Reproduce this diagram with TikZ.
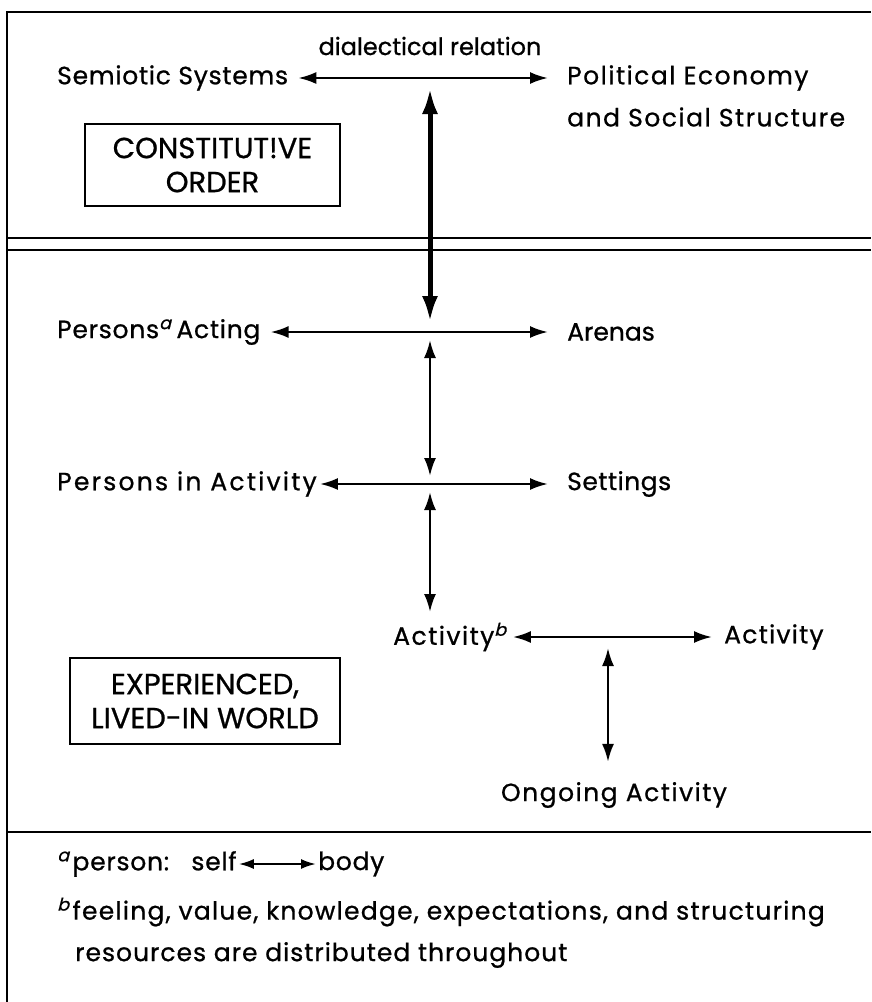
\documentclass[tikz,border=0pt]{standalone}
\usepackage{fontspec}
\setmainfont{Poppins}[FakeBold=0.8]
\usetikzlibrary{arrows.meta}
\newcommand{\supa}{\textsuperscript{\addfontfeature{FakeSlant=0.25}a}}
\newcommand{\supb}{\textsuperscript{\addfontfeature{FakeSlant=0.25}b}}
\newcommand{\spc}[1]{\addfontfeature{LetterSpace=#1}}
\begin{document}
\begin{tikzpicture}[x=1pt,y=-1pt,
  lbl/.style={anchor=west,inner sep=0pt,font=\fontsize{25}{28}\selectfont},
  orderbox/.style={draw,line width=2.6pt,align=center,inner sep=0pt,font=\fontsize{29}{34}\selectfont},
  rule/.style={line width=2.6pt},
  link/.style={line width=2.4pt,{Latex[length=18pt,width=12pt]}-{Latex[length=18pt,width=12pt]}},
  biglink/.style={line width=5pt,{Latex[length=26pt,width=16pt]}-{Latex[length=26pt,width=16pt]}},
  smalllink/.style={line width=2.2pt,{Latex[length=15pt,width=10pt]}-{Latex[length=15pt,width=10pt]}}]
\useasboundingbox (0,0) rectangle (871,1002);
% frame and dividing rules
\draw[rule] (7,1002) -- (7,12) -- (871,12);
\draw[rule] (7,238) -- (871,238);
\draw[rule] (7,250) -- (871,250);
\draw[rule] (7,832) -- (871,832);
% constitutive order
\node[inner sep=0pt,font=\fontsize{24}{28}\selectfont] (dial) at (430,46) {dialectical relation};
\node[lbl] (sem) at (57,78) {\spc{3}Semiotic Systems};
\node[lbl] (pol) at (567,78) {\spc{6}Political Economy};
\node[lbl] (soc) at (567,117) {\spc{6}and Social Structure};
\draw[orderbox] (85,124) rectangle (340,206);
\node[orderbox,draw=none] (cons) at (212.5,165) {CONSTITUT!VE\\ORDER};
\coordinate (jtop) at (430,78);
% lived-in world
\node[lbl] (pact) at (57,332) {\spc{3}Persons\supa\hspace{5pt}Acting};
\node[lbl] (arena) at (567,332) {\spc{0}Arenas};
\coordinate (j1) at (430,332);
\node[lbl] (pia) at (57,484) {\spc{9}Persons in Activity};
\node[lbl] (sett) at (567,484) {\spc{2}Settings};
\coordinate (j2) at (430,484);
\node[lbl] (act) at (393,637) {\spc{6}Activity\supb};
\node[lbl] (act2) at (724,637) {\spc{5}Activity};
\coordinate (j3) at (608,637);
\node[lbl,anchor=center] (ong) at (614,795) {\spc{6}Ongoing Activity};
\draw[orderbox] (70,658) rectangle (340,744);
\node[orderbox,draw=none] (exp) at (205,701) {EXPERIENCED,\\LIVED-IN WORLD};
% connectors
\draw[link,shorten <=10pt,shorten >=19pt] (sem.east) -- (pol.west);
\draw[biglink,shorten <=10pt,shorten >=10pt] (jtop) -- (j1);
\draw[link,shorten <=10pt,shorten >=19pt] (pact.east) -- (arena.west);
\draw[link,shorten <=8pt,shorten >=8pt] (j1) -- (j2);
\draw[link,shorten <=3pt,shorten >=19pt] (pia.east) -- (sett.west);
\draw[link,shorten <=8pt,shorten >=25pt] (j2) -- (430,637);
\draw[link,shorten <=6pt,shorten >=12pt] (act.east) -- (act2.west);
\draw[link,shorten <=11pt,shorten >=20pt] (j3) -- (ong.north -| j3);
% footnotes
\node[lbl] (na) at (57,864) {\spc{3}\supa\hspace{3pt}person:\ \ \ self};
\node[lbl] (nb) at (318,864) {\spc{3}body};
\draw[smalllink,shorten <=2pt,shorten >=2pt] (na.east) -- (nb.west);
\node[lbl] (nc) at (57,912) {\spc{5}\supb\hspace{3pt}feeling, value, knowledge, expectations, and structuring};
\node[lbl] (nd) at (75,955) {\spc{4}resources are distributed throughout};
\end{tikzpicture}
\end{document}
